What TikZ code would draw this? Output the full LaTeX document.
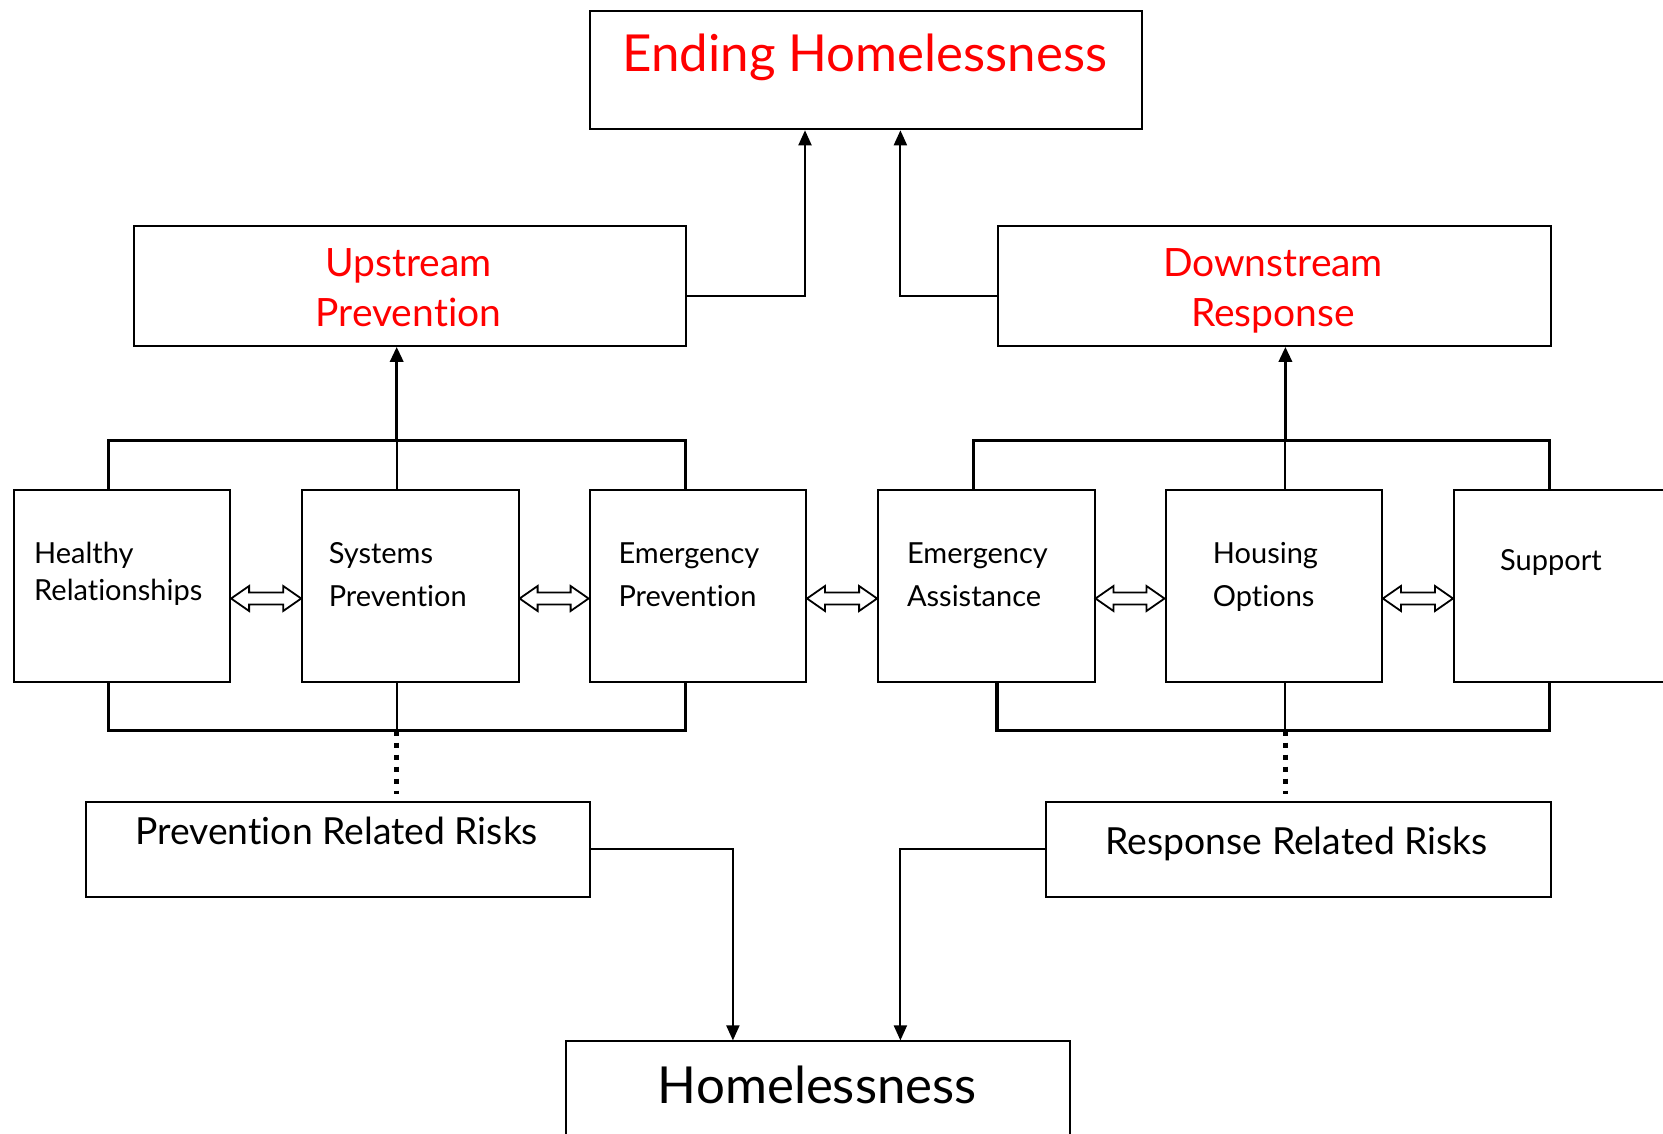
\documentclass[tikz,border=0pt]{standalone}
\usepackage{fontspec}
\setmainfont{Lato}[Ligatures=NoCommon]
\usetikzlibrary{calc,arrows.meta}
\definecolor{titlered}{RGB}{255,0,0}
\begin{document}
\begin{tikzpicture}[x=1pt,y=-1pt,
  box/.style={draw,line width=2pt,inner sep=0pt,anchor=north west,fill=white},
  rowbox/.style={box,minimum width=216.4pt,minimum height=192pt},
  txt/.style={inner sep=0pt},
  bigtxt/.style={txt,font=\fontsize{51}{58}\selectfont},
  midtxt/.style={txt,text=titlered,font=\fontsize{39}{46}\selectfont},
  smalltxt/.style={txt,anchor=base west,font=\fontsize{29}{34}\selectfont},
  risktxt/.style={txt,anchor=base,font=\fontsize{37.3}{44}\selectfont},
  conn/.style={line width=2pt,-{Triangle[length=15pt,width=13pt]}},
  bracket/.style={line width=3.2pt,line join=miter},
  thinline/.style={line width=2pt},
  dotline/.style={line width=5.3pt,dash pattern=on 5.3pt off 6.7pt},
  dblarrow/.style={draw,line width=1.8pt,fill=white,line join=miter}
]
\useasboundingbox (0,0) rectangle (1663,1133);
\clip (0,0) rectangle (1663,1133);

% top boxes
\node[box,minimum width=552.6pt,minimum height=118.8pt] (end) at (588.6,9.5) {};
\node[box,minimum width=552.5pt,minimum height=120pt] (up) at (132.6,224.8) {};
\node[box,minimum width=552.5pt,minimum height=120pt] (down) at (997,224.8) {};

% row boxes
\node[rowbox] (hr) at (12.7,488.9) {};
\node[rowbox] (sp) at (301.2,488.9) {};
\node[rowbox] (ep) at (588.6,488.9) {};
\node[rowbox] (ea) at (877.1,488.9) {};
\node[rowbox] (ho) at (1164.5,488.9) {};
\node[rowbox] (su) at (1453,488.9) {};

% risk boxes
\node[box,minimum width=503.8pt,minimum height=95.4pt] (prr) at (84.8,800.8) {};
\node[box,minimum width=504.8pt,minimum height=95.4pt] (rrr) at (1044.7,800.8) {};

% homelessness
\node[box,minimum width=503.8pt,minimum height=130pt] (hom) at (565.3,1040.4) {};

% texts
\node[bigtxt,text=titlered,anchor=base] (endt) at (865,71.7) {Ending Homelessness};
\node[midtxt,anchor=base] (upt1) at (408.5,276) {Upstream};
\node[midtxt,anchor=base] (upt2) at (408.5,326) {Prevention};
\node[midtxt,anchor=base] (dnt1) at (1273,276) {Downstream};
\node[midtxt,anchor=base] (dnt2) at (1273,326) {Response};

\node[smalltxt] (hrt1) at (34,563.5) {Healthy};
\node[smalltxt] (hrt2) at (34,600) {Relationships};
\node[smalltxt] (spt1) at (328.6,563.5) {Systems};
\node[smalltxt] (spt2) at (328.6,606.7) {Prevention};
\node[smalltxt] (ept1) at (618.3,563.5) {Emergency};
\node[smalltxt] (ept2) at (618.3,606.7) {Prevention};
\node[smalltxt] (eat1) at (906.8,563.5) {Emergency};
\node[smalltxt] (eat2) at (906.8,606.7) {Assistance};
\node[smalltxt] (hot1) at (1212.7,563.5) {Housing};
\node[smalltxt] (hot2) at (1212.7,606.7) {Options};
\node[smalltxt] (sut) at (1500,570) {Support};

\node[risktxt] (prrt) at (336.7,844.2) {Prevention Related Risks};
\node[risktxt] (rrrt) at (1296.7,854) {Response Related Risks};
\node[bigtxt,anchor=base] (homt) at (817.3,1103.3) {Homelessness};

% connectors to Ending Homelessness
\draw[conn] ($(up.north east)+(0,71.1)$) -| ($(end.south west)+(216.4,0)$);
\draw[conn] ($(down.north west)+(0,71.1)$) -| ($(end.south west)+(311.8,0)$);

% junction points
\coordinate (lt) at ($(sp.north west)+(95.5,-48.8)$);
\coordinate (lb) at ($(sp.south west)+(95.5,47.7)$);
\coordinate (rt) at ($(ho.north west)+(120.9,-48.8)$);
\coordinate (rb) at ($(ho.south west)+(120.9,47.7)$);

% left brackets
\draw[bracket] ($(hr.north west)+(95.5,0)$) -- ++(0,-48.8) -| ($(ep.north west)+(96.5,0)$);
\draw[bracket] ($(hr.south west)+(95.5,0)$) -- ++(0,47.7) -| ($(ep.south west)+(96.5,0)$);
\draw[thinline] (lt |- sp.north) -- (lt);
\draw[thinline] (lb |- sp.south) -- (lb);
\draw[bracket,-{Triangle[length=15pt,width=13pt]}] (lt) -- (lt |- up.south);
\draw[dotline] (lb) -- ($(lb |- prr.north)+(0,-6.5)$);

% right brackets
\draw[bracket] ($(ea.north west)+(96.2,0)$) -- ++(0,-48.8) -| ($(su.north west)+(96.5,0)$);
\draw[bracket] ($(ea.south west)+(119.9,0)$) -- ++(0,47.7) -| ($(su.south west)+(96.5,0)$);
\draw[thinline] (rt |- ho.north) -- (rt);
\draw[thinline] (rb |- ho.south) -- (rb);
\draw[bracket,-{Triangle[length=15pt,width=13pt]}] (rt) -- (rt |- down.south);
\draw[dotline] (rb) -- ($(rb |- rrr.north)+(0,-6.5)$);

% risks to homelessness
\draw[conn] ($(prr.north east)+(0,47.7)$) -| ($(hom.north west)+(167.6,0)$);
\draw[conn] ($(rrr.north west)+(0,47.7)$) -| ($(hom.north west)+(335.1,0)$);

% double arrows
\foreach \a/\b in {hr/sp, sp/ep, ep/ea, ea/ho, ho/su}{
  \draw[dblarrow] ($(\a.east)+(0,12.6)$) -- ++(18,-12.5) -- ++(0,6.5)
     -- ($(\b.west)+(-18,6.6)$) -- ++(0,-6.5) -- ++(18,12.5) -- ++(-18,12.5) -- ++(0,-6.5)
     -- ($(\a.east)+(18,18.6)$) -- ++(0,6.5) -- cycle;
}
\end{tikzpicture}
\end{document}
